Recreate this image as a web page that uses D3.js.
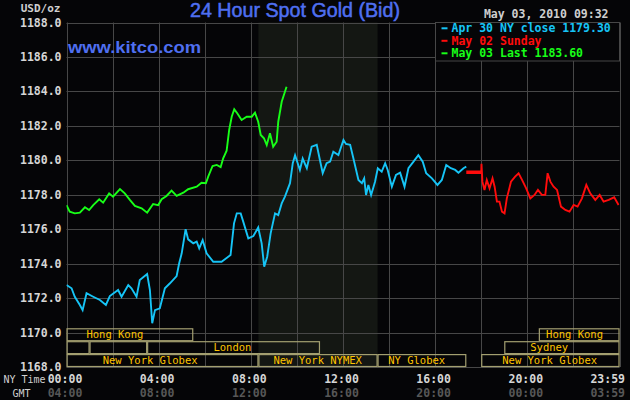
<!DOCTYPE html>
<html>
<head>
<meta charset="utf-8">
<title>24 Hour Spot Gold (Bid)</title>
<script src="https://d3js.org/d3.v7.min.js"></script>
<style>
  body { margin: 0; background: #050507; }
  svg { display: block; }
  .mono { font-family: "DejaVu Sans Mono", monospace; }
</style>
</head>
<body>
<svg width="630" height="400"></svg>
<script>
// ---- data (hour of NY day, USD/oz) ----
const apr30 = [[0.00,1172.76],[0.22,1172.57],[0.36,1172.08],[0.58,1171.60],[0.70,1171.30],[0.87,1172.28],
  [1.16,1172.08],[1.45,1171.89],[1.71,1171.60],[1.88,1172.12],[2.24,1172.47],[2.39,1172.08],[2.68,1172.76],
  [2.82,1172.57],[3.04,1172.08],[3.18,1173.05],[3.50,1173.40],[3.62,1172.47],[3.72,1170.54],[3.84,1171.30],
  [4.05,1171.41],[4.27,1172.57],[4.49,1172.86],[4.78,1173.28],[4.89,1174.02],[5.00,1174.60],[5.17,1176.00],
  [5.28,1175.41],[5.50,1175.18],[5.65,1175.28],[5.76,1174.89],[5.91,1175.37],[6.08,1174.60],[6.37,1174.11],
  [6.73,1174.11],[7.02,1174.40],[7.12,1174.50],[7.27,1176.34],[7.39,1176.92],[7.56,1176.92],[7.67,1176.44],
  [7.89,1175.47],[8.11,1175.60],[8.32,1176.10],[8.47,1175.18],[8.58,1173.82],[8.71,1174.40],[8.86,1175.76],
  [9.05,1176.92],[9.19,1176.82],[9.34,1177.50],[9.48,1177.89],[9.70,1178.67],[9.82,1179.83],[9.92,1180.30],
  [10.13,1179.44],[10.25,1180.10],[10.43,1179.54],[10.64,1180.79],[10.86,1180.90],[11.00,1180.00],[11.12,1179.25],
  [11.29,1179.83],[11.44,1179.92],[11.58,1180.50],[11.80,1180.30],[12.02,1181.18],[12.13,1180.95],[12.31,1180.90],
  [12.45,1180.12],[12.67,1178.86],[12.82,1178.67],[12.92,1178.95],[13.00,1177.99],[13.10,1178.57],[13.22,1177.99],
  [13.39,1178.76],[13.51,1179.54],[13.68,1179.34],[13.83,1179.83],[13.94,1179.44],[14.12,1178.47],[14.30,1179.15],
  [14.48,1179.28],[14.67,1178.47],[14.84,1179.54],[15.06,1179.92],[15.27,1180.30],[15.46,1179.92],[15.61,1179.25],
  [15.86,1178.95],[16.10,1178.57],[16.29,1178.86],[16.48,1179.73],[16.68,1179.54],[16.87,1179.44],[17.01,1179.28],
  [17.23,1179.54],[17.35,1179.63]];

const may02 = [[18.00,1179.30],[18.01,1179.80],[18.05,1178.76],[18.14,1178.28],[18.24,1178.86],[18.36,1178.37],
  [18.49,1178.95],[18.58,1178.47],[18.68,1177.60],[18.79,1177.60],[18.90,1177.02],[19.01,1176.92],[19.11,1177.79],
  [19.29,1178.76],[19.47,1179.05],[19.62,1179.25],[19.77,1178.86],[19.95,1178.37],[20.13,1177.79],[20.31,1177.99],
  [20.46,1178.28],[20.63,1177.99],[20.78,1177.99],[20.88,1179.25],[21.00,1178.76],[21.14,1178.47],[21.29,1178.28],
  [21.46,1177.31],[21.65,1177.12],[21.83,1177.02],[22.01,1177.41],[22.18,1177.31],[22.37,1177.79],[22.56,1178.57],
  [22.73,1178.08],[22.95,1177.70],[23.14,1177.99],[23.31,1177.60],[23.53,1177.70],[23.77,1177.85],[23.96,1177.41]];

const may03 = [[0.00,1177.40],[0.14,1177.02],[0.36,1176.92],[0.58,1176.96],[0.80,1177.27],[0.98,1177.11],
  [1.16,1177.40],[1.42,1177.74],[1.59,1177.54],[1.85,1178.08],[2.02,1177.89],[2.32,1178.33],[2.53,1178.08],
  [2.75,1177.70],[2.97,1177.35],[3.26,1177.21],[3.50,1176.96],[3.76,1177.46],[3.98,1177.40],[4.13,1177.74],
  [4.34,1177.93],[4.56,1178.24],[4.78,1177.93],[5.07,1178.12],[5.28,1178.32],[5.65,1178.47],[5.86,1178.70],
  [6.05,1178.67],[6.15,1179.05],[6.34,1179.67],[6.52,1179.73],[6.69,1179.60],[6.80,1180.12],[6.95,1180.56],
  [7.06,1181.76],[7.17,1182.53],[7.28,1182.96],[7.41,1182.73],[7.60,1182.34],[7.82,1182.53],[8.04,1182.53],
  [8.18,1182.76],[8.32,1182.24],[8.43,1181.47],[8.57,1181.28],[8.69,1180.89],[8.83,1181.57],[8.97,1180.79],
  [9.12,1181.08],[9.19,1182.24],[9.34,1183.40],[9.48,1183.98],[9.55,1184.27]];

const nyClose = 1179.30;
const nymexHours = [8.33, 13.5];

const legendLabels = ["Apr 30 NY close 1179.30", "May 02 Sunday", "May 03 Last 1183.60"];
const yTicks = d3.range(1168, 1189, 2);
const xTickHours = [0, 4, 8, 12, 16, 20, 24];
const nyLabels  = ["00:00", "04:00", "08:00", "12:00", "16:00", "20:00", "23:59"];
const gmtLabels = ["04:00", "08:00", "12:00", "16:00", "20:00", "00:00", "03:59"];

const sessions = [
  {name: "Hong Kong",       row: 0, start: 0,    end: 5.5,  label: 2.1},
  {name: "",                row: 1, start: 0,    end: 1},
  {name: "",                row: 1, start: 1,    end: 3.5},
  {name: "London",          row: 1, start: 3.5,  end: 11,   label: 7.2},
  {name: "New York Globex", row: 2, start: 0,    end: 8.33, label: 3.63},
  {name: "New York NYMEX",  row: 2, start: 8.33, end: 13.5, label: 10.9},
  {name: "NY Globex",       row: 2, start: 13.5, end: 17.35, label: 15.2},
  {name: "New York Globex", row: 2, start: 18,   end: 24,   label: 20.97},
  {name: "Sydney",          row: 1, start: 19,   end: 24,   label: 20.95},
  {name: "Hong Kong",       row: 0, start: 20.5, end: 24,   label: 22.05}
];

// ---- layout ----
const svg = d3.select("svg");
const pLeft = 66.5, pRight = 619.5, pTop = 22.5, pBottom = 367;
const x = d3.scaleLinear().domain([0, 24]).range([pLeft, pRight]);
const y = d3.scaleLinear().domain([1168, 1188]).range([pBottom, pTop]);
const crisp = v => Math.round(v) + 0.5;
const gridCol = "#474747", khaki = "#a39f70";
const colors = ["#16c4f6", "#ff0c0c", "#18ff18"];

svg.append("rect").attr("width", 630).attr("height", 400).attr("fill", "#050507");

// NYMEX pit hours shading
svg.append("rect")
  .attr("x", x(nymexHours[0])).attr("y", pTop)
  .attr("width", x(nymexHours[1]) - x(nymexHours[0])).attr("height", pBottom - pTop)
  .attr("fill", "#141713");

// grid
svg.append("g").selectAll("line").data(yTicks).join("line")
  .attr("x1", pLeft).attr("x2", pRight)
  .attr("y1", d => crisp(y(d))).attr("y2", d => crisp(y(d)))
  .attr("stroke", gridCol);
svg.append("g").selectAll("line").data(d3.range(0, 25, 2)).join("line")
  .attr("x1", d => crisp(x(d))).attr("x2", d => crisp(x(d)))
  .attr("y1", pTop).attr("y2", pBottom)
  .attr("stroke", gridCol);

// trading session boxes
const rowH = 12.9;
const rowTop = r => pBottom - (3 - r) * rowH;
const sess = svg.append("g");
sess.selectAll("rect").data(sessions).join("rect")
  .attr("x", d => x(d.start) + 0.5).attr("y", d => rowTop(d.row) + 0.5)
  .attr("width", d => x(d.end) - x(d.start) - 1).attr("height", rowH - 1)
  .attr("fill", "none").attr("stroke", khaki).attr("stroke-width", 1.2);
sess.selectAll("text").data(sessions.filter(d => d.name)).join("text")
  .attr("class", "mono")
  .attr("x", d => x(d.label)).attr("y", d => rowTop(d.row) + 10)
  .attr("text-anchor", "middle")
  .attr("font-size", 10.5).attr("fill", "#ffc400")
  .text(d => d.name);

// price lines
svg.append("defs").append("clipPath").attr("id", "plot")
  .append("rect").attr("x", pLeft).attr("y", pTop).attr("width", pRight - pLeft).attr("height", pBottom - pTop);
const line = d3.line().x(d => x(d[0])).y(d => y(d[1]));
const lines = svg.append("g").attr("clip-path", "url(#plot)");
lines.append("path")
  .attr("d", line([[apr30[apr30.length - 1][0], nyClose], [may02[0][0], nyClose]]))
  .attr("fill", "none").attr("stroke", colors[1]).attr("stroke-width", 3.5);
[apr30, may02, may03].forEach((s, i) => {
  lines.append("path").attr("d", line(s))
    .attr("fill", "none").attr("stroke", colors[i])
    .attr("stroke-width", 1.9).attr("stroke-linejoin", "miter");
});

// legend
svg.append("rect").attr("x", 435.5).attr("y", pTop).attr("width", pRight - 435.5).attr("height", 38.5)
  .attr("fill", "#050507").attr("stroke", gridCol);
const leg = svg.append("g").selectAll("g").data(legendLabels).join("g")
  .attr("transform", (d, i) => `translate(441.5,${32.3 + i * 12.5})`);
leg.append("line").attr("x1", 0).attr("x2", 6).attr("y1", -4).attr("y2", -4)
  .attr("stroke", (d, i) => colors[i]).attr("stroke-width", 2);
leg.append("text").attr("class", "mono").attr("x", 10)
  .attr("font-size", 11.5).attr("font-weight", "bold")
  .attr("fill", (d, i) => colors[i]).text(d => d);

// y axis labels
svg.append("g").selectAll("text").data(yTicks).join("text")
  .attr("class", "mono")
  .attr("x", 61.5).attr("y", d => y(d) + 4)
  .attr("text-anchor", "end").attr("font-size", 11.5).attr("font-weight", "bold")
  .attr("fill", "#d6d6d6")
  .text(d => d.toFixed(1));

// x axis labels
const last = xTickHours.length - 1;
const xl = svg.append("g");
xl.selectAll("text.ny").data(xTickHours).join("text")
  .attr("class", "mono ny")
  .attr("x", (d, i) => i === last ? 625 : x(d) - 1.5)
  .attr("y", 382.7)
  .attr("text-anchor", (d, i) => i === last ? "end" : "middle")
  .attr("font-size", 11.5).attr("font-weight", "bold").attr("fill", "#d6d6d6")
  .text((d, i) => nyLabels[i]);
xl.selectAll("text.gmt").data(xTickHours).join("text")
  .attr("class", "mono gmt")
  .attr("x", (d, i) => i === last ? 625 : x(d) - 1.5)
  .attr("y", 397.3)
  .attr("text-anchor", (d, i) => i === last ? "end" : "middle")
  .attr("font-size", 11.5).attr("font-weight", "bold").attr("fill", "#575757")
  .text((d, i) => gmtLabels[i]);
svg.append("text").attr("class", "mono").attr("x", 3.5).attr("y", 383.3)
  .attr("font-size", 10).attr("fill", "#d0d0d0").text("NY Time");
svg.append("text").attr("class", "mono").attr("x", 12.5).attr("y", 397)
  .attr("font-size", 10).attr("fill", "#d0d0d0").text("GMT");

// header texts
svg.append("text").attr("class", "mono").attr("x", 20.7).attr("y", 12)
  .attr("font-size", 11).attr("font-weight", "bold").attr("fill", "#cfcfcf").text("USD/oz");
svg.append("text").attr("class", "mono").attr("x", 608.5).attr("y", 18.3)
  .attr("text-anchor", "end").attr("font-size", 11.5).attr("font-weight", "bold")
  .attr("fill", "#cfcfcf").text("May 03, 2010 09:32");
svg.append("text").attr("x", 190).attr("y", 17.3)
  .attr("font-family", "'Liberation Sans', Arial, sans-serif").attr("font-size", 19.5)
  .attr("fill", "#4f6ff0").attr("stroke", "#4f6ff0").attr("stroke-width", 0.5)
  .attr("textLength", 210).attr("lengthAdjust", "spacingAndGlyphs")
  .text("24 Hour Spot Gold (Bid)");
svg.append("text").attr("x", 68).attr("y", 53.3)
  .attr("font-family", "'Liberation Sans', Arial, sans-serif").attr("font-size", 17)
  .attr("font-weight", "bold").attr("fill", "#4f6ff0")
  .attr("textLength", 133).attr("lengthAdjust", "spacingAndGlyphs")
  .text("www.kitco.com");
</script>
</body>
</html>
